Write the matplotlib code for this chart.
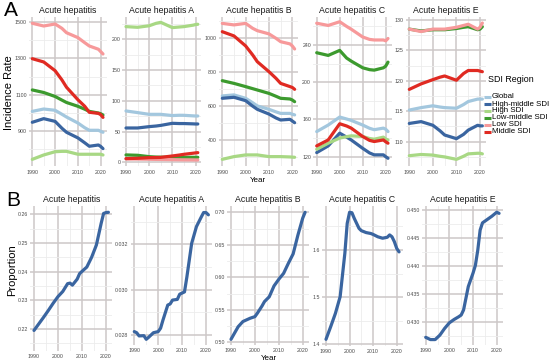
"""
SDI-region incidence (A) and proportion (B) for acute hepatitis, 1990-2021
"""

import numpy as np
import matplotlib
matplotlib.use('Agg')
import matplotlib.pyplot as plt
from matplotlib.lines import Line2D
from matplotlib.ticker import AutoMinorLocator, FormatStrFormatter

plt.rcParams['font.family'] = ['Liberation Sans', 'DejaVu Sans']

# ---- data -------------------------------------------------------------
regions = ['Global', 'High-middle SDI', 'High SDI', 'Low-middle SDI', 'Low SDI', 'Middle SDI']
region_colors = ['#A3C7DE', '#3A65A0', '#A8D884', '#3C9A2E', '#F7999A', '#E02A22']

years_a = [1990, 1995, 2000, 2003, 2005, 2010, 2013, 2015, 2019, 2020, 2021]

titles = ['Acute hepatitis', 'Acute hepatitis A', 'Acute hepatitis B',
          'Acute hepatitis C', 'Acute hepatitis E']

# incidence rate, one list per region (order as in `regions`)
inc_total = [
    [1008, 1021, 1014, 992, 977, 944, 918, 904, 904, 898, 893],
    [948, 968, 953, 915, 893, 862, 835, 816, 823, 815, 803],
    [744, 768, 786, 788, 788, 772, 772, 772, 772, 772, 768],
    [1126, 1112, 1090, 1070, 1057, 1036, 1020, 1008, 999, 995, 988],
    [1493, 1478, 1489, 1465, 1441, 1414, 1386, 1368, 1350, 1337, 1324],
    [1298, 1280, 1232, 1181, 1141, 1072, 1036, 1003, 997, 990, 975],
]
inc_hav = [
    [83.5, 80.8, 78, 78, 78, 76, 76.5, 76.4, 75.5, 75.3, 75.3],
    [55.8, 55.8, 58, 59, 60, 63.4, 63, 63, 62.5, 62.3, 62.3],
    [220.6, 219.5, 222, 226, 227.6, 219, 220, 220.6, 223, 224, 224.4],
    [12, 11.4, 9.2, 8.5, 8.3, 8.1, 8.1, 8.1, 8.1, 8.1, 8.1],
    [5.5, 5.2, 4.9, 4.7, 4.6, 4.3, 4.1, 4.0, 3.9, 3.8, 3.8],
    [6, 6.5, 7.6, 7.8, 8, 10.3, 11.8, 13, 14.8, 15.3, 15.7],
]
inc_hbv = [
    [660, 666, 646, 620, 601, 581, 566, 557, 557, 552, 548],
    [646, 652, 632, 600, 581, 553, 530, 518, 522, 512, 502],
    [286, 302, 312, 312, 312, 302, 302, 302, 300, 299, 298],
    [750, 734, 715, 703, 695, 675, 658, 646, 642, 636, 626],
    [1088, 1079, 1088, 1059, 1045, 1026, 1000, 980, 967, 955, 937],
    [1039, 1014, 955, 902, 862, 803, 764, 734, 715, 710, 699],
]
inc_hcv = [
    [147, 154, 162.6, 160.5, 159, 154, 150.5, 149, 150.7, 149.5, 147],
    [124.4, 131.6, 145.3, 141, 138, 129, 124, 122, 122, 120, 118.3],
    [128, 134.5, 140, 141.5, 142.4, 141.7, 139.5, 138.8, 141, 139, 138],
    [231.7, 228.8, 234.2, 226, 222.7, 215.5, 213.5, 213, 215.5, 217.3, 221.6],
    [263.4, 261, 265, 260, 257, 248.6, 246, 245.4, 245.4, 244.5, 247],
    [131.6, 138, 155.4, 153, 150.7, 141.7, 137.5, 136.3, 138, 136, 134.5],
]
inc_hev = [
    [115.2, 115.6, 115.9, 115.7, 115.6, 115.5, 116.1, 116.6, 117, 117, 117],
    [113, 113.3, 112.7, 111.8, 111.1, 110.5, 111.2, 111.9, 112.7, 112.6, 112.6],
    [107.7, 107.9, 107.8, 107.6, 107.5, 107.1, 107.6, 108, 108.1, 108.1, 108],
    [128.5, 128.2, 128.4, 128.4, 128.4, 128.6, 128.8, 128.9, 128.4, 128.5, 128.9],
    [128.5, 128.1, 128.5, 128.5, 128.5, 128.8, 129.1, 129.3, 128.5, 128.8, 129.5],
    [118.6, 119.5, 120.2, 120.6, 120.8, 120.1, 121.2, 121.7, 121.7, 121.6, 121.5],
]

# proportion panels
yrs_b1 = [1990, 1992, 1994, 1996, 1998, 2000, 2002, 2004, 2005, 2006, 2008, 2009,
          2010, 2012, 2014, 2016, 2018, 2019, 2020, 2021]
prop_total = [0.2195, 0.2218, 0.2241, 0.2265, 0.2290, 0.2313, 0.2331, 0.2358, 0.2360,
              0.2353, 0.2374, 0.2393, 0.2401, 0.2416, 0.2450, 0.2493, 0.2569, 0.2603,
              0.2606, 0.2607]
yrs_b2 = [1990, 1991, 1992, 1994, 1995, 1996, 1998, 2000, 2001, 2002, 2004, 2005,
          2006, 2008, 2009, 2011, 2012, 2014, 2016, 2018, 2019, 2020, 2021]
prop_hav = [0.02815, 0.0281, 0.02796, 0.02797, 0.02781, 0.0279, 0.0281, 0.02815,
            0.0283, 0.02866, 0.02932, 0.02937, 0.02954, 0.02957, 0.0298, 0.0299,
            0.03056, 0.03204, 0.03278, 0.0332, 0.0334, 0.0334, 0.0333]
yrs_b3 = [1990, 1993, 1995, 1998, 2000, 2001, 2003, 2004, 2006, 2008, 2010, 2012,
          2014, 2016, 2018, 2020, 2021]
prop_hbv = [0.5046, 0.524, 0.532, 0.537, 0.5395, 0.5446, 0.556, 0.5626, 0.570,
            0.5867, 0.597, 0.606, 0.6215, 0.636, 0.665, 0.691, 0.700]
yrs_b4 = [1990, 1992, 1994, 1996, 1998, 1999, 2000, 2001, 2002, 2004, 2005, 2007,
          2009, 2010, 2012, 2014, 2016, 2017, 2018, 2019, 2020, 2021]
prop_hcv = [1.4106, 1.4375, 1.4657, 1.501, 1.593, 1.6565, 1.680, 1.679, 1.667,
            1.6459, 1.641, 1.637, 1.635, 1.633, 1.628, 1.625, 1.627, 1.632, 1.628,
            1.6177, 1.6035, 1.596]
yrs_b5 = [1990, 1992, 1994, 1996, 1998, 2000, 2002, 2004, 2005, 2006, 2008, 2010,
          2011, 2012, 2013, 2014, 2016, 2018, 2020, 2021]
prop_hev = [0.4272, 0.4268, 0.4268, 0.4276, 0.4288, 0.4298, 0.4304, 0.4309, 0.4312,
            0.4321, 0.4363, 0.4387, 0.4401, 0.4428, 0.4464, 0.4477, 0.4483, 0.4489,
            0.4496, 0.4494]

# ---- layout helpers ---------------------------------------------------
W, H = 550, 362
fig = plt.figure(figsize=(W / 100, H / 100), dpi=100)

MAJOR = '#cdc7c7'
MINOR = '#ececec'
TICKCOL = '#4a4a4a'


def panel(x1990, x2020, ytop, ybot, v1, p1, v2, p2, yticks, fmt, title, xpad=3):
    ppy = (x2020 - x1990) / 30.0
    left = x1990 - 1.55 * ppy
    right = x2020 + 2.55 * ppy
    ax = fig.add_axes([left / W, 1 - ybot / H, (right - left) / W, (ybot - ytop) / H])
    ax.set_xlim(1988.45, 2022.55)
    upp = (v1 - v2) / (p2 - p1)
    ax.set_ylim(v2 - (ybot - p2) * upp, v1 + (p1 - ytop) * upp)
    ax.set_xticks([1990, 2000, 2010, 2020])
    ax.set_yticks(yticks)
    ax.yaxis.set_major_formatter(FormatStrFormatter(fmt))
    ax.xaxis.set_minor_locator(AutoMinorLocator(2))
    ax.yaxis.set_minor_locator(AutoMinorLocator(2))
    ax.grid(which='major', color=MAJOR, lw=1.1)
    ax.grid(which='minor', color=MINOR, lw=0.6)
    ax.set_axisbelow(True)
    for s in ax.spines.values():
        s.set_visible(False)
    ax.tick_params(which='both', length=0, labelsize=3.8, labelcolor=TICKCOL)
    ax.tick_params(axis='x', pad=xpad)
    ax.tick_params(axis='y', pad=1.5)
    ax.set_title(title, fontsize=6.3, pad=3, color='#1a1a1a')
    return ax


# ---- row A: incidence -------------------------------------------------
inc_sets = [inc_total, inc_hav, inc_hbv, inc_hcv, inc_hev]
a_geo = [
    (32.3, 100.7, 1500, 22, 900, 131, [900, 1100, 1300, 1500], '%d'),
    (126.0, 195.5, 200, 39.3, 0, 162.3, [0, 50, 100, 150, 200], '%d'),
    (222.3, 292.3, 1000, 38.3, 400, 140, [400, 600, 800, 1000], '%d'),
    (316.7, 385.7, 240, 45, 120, 156.7, [120, 160, 200, 240], '%d'),
    (409.3, 480.0, 130, 20, 110, 141.7, [110, 115, 120, 125, 130], '%d'),
]
for data, g, t in zip(inc_sets, a_geo, titles):
    ax = panel(g[0], g[1], 17, 166, g[2], g[3], g[4], g[5], g[6], g[7], t)
    for vals, col in zip(data, region_colors):
        ax.plot(years_a, vals, color=col, lw=2.3, solid_capstyle='round',
                solid_joinstyle='round')

# ---- row B: proportion ------------------------------------------------
b_sets = [(yrs_b1, prop_total), (yrs_b2, prop_hav), (yrs_b3, prop_hbv),
          (yrs_b4, prop_hcv), (yrs_b5, prop_hev)]
b_geo = [
    (34.0, 106.0, 351, 0.26, 214.3, 0.22, 329, np.arange(0.22, 0.2601, 0.01), '%.2f'),
    (134.3, 206.0, 345, 0.032, 244.3, 0.028, 335, [0.028, 0.030, 0.032], '%.3f'),
    (231.0, 302.7, 345, 0.70, 212.3, 0.50, 342.3, np.arange(0.50, 0.7001, 0.05), '%.2f'),
    (326.0, 396.7, 346, 1.6, 250, 1.4, 344.3, [1.4, 1.5, 1.6], '%.1f'),
    (425.7, 496.7, 345, 0.450, 210, 0.430, 321.7, np.arange(0.430, 0.4501, 0.005), '%.3f'),
]
for (yrs, vals), g, t in zip(b_sets, b_geo, titles):
    ax = panel(g[0], g[1], 206, g[2], g[3], g[4], g[5], g[6], g[7], g[8], t, xpad=2)
    ax.plot(yrs, vals, color='#3A65A0', lw=2.3, solid_capstyle='round',
            solid_joinstyle='round')

# ---- labels and legend ------------------------------------------------
fig.text(11 / W, 1 - 11 / H, 'A', fontsize=15, ha='center', va='center')
fig.text(13 / W, 1 - 201 / H, 'B', fontsize=15, ha='center', va='center')
fig.text(9 / W, 1 - 93 / H, 'Incidence Rate', fontsize=8, rotation=90,
         ha='center', va='center')
fig.text(12 / W, 1 - 270 / H, 'Proportion', fontsize=8, rotation=90,
         ha='center', va='center')
fig.text(258 / W, 1 - 180 / H, 'Year', fontsize=5.8, ha='center', va='center')
fig.text(269 / W, 1 - 358 / H, 'Year', fontsize=5.8, ha='center', va='center')

fig.text(488 / W, 1 - 80 / H, 'SDI Region', fontsize=6.4, va='center')
for i, (lab, col) in enumerate(zip(regions, region_colors)):
    y = 1 - (97 + 7 * i) / H
    fig.add_artist(Line2D([484 / W, 491 / W], [y, y], color=col, lw=2.2,
                          transform=fig.transFigure, solid_capstyle='butt'))
    fig.text(492 / W, y, lab, fontsize=5.7, va='center')

fig.savefig('out.png', dpi=100)
